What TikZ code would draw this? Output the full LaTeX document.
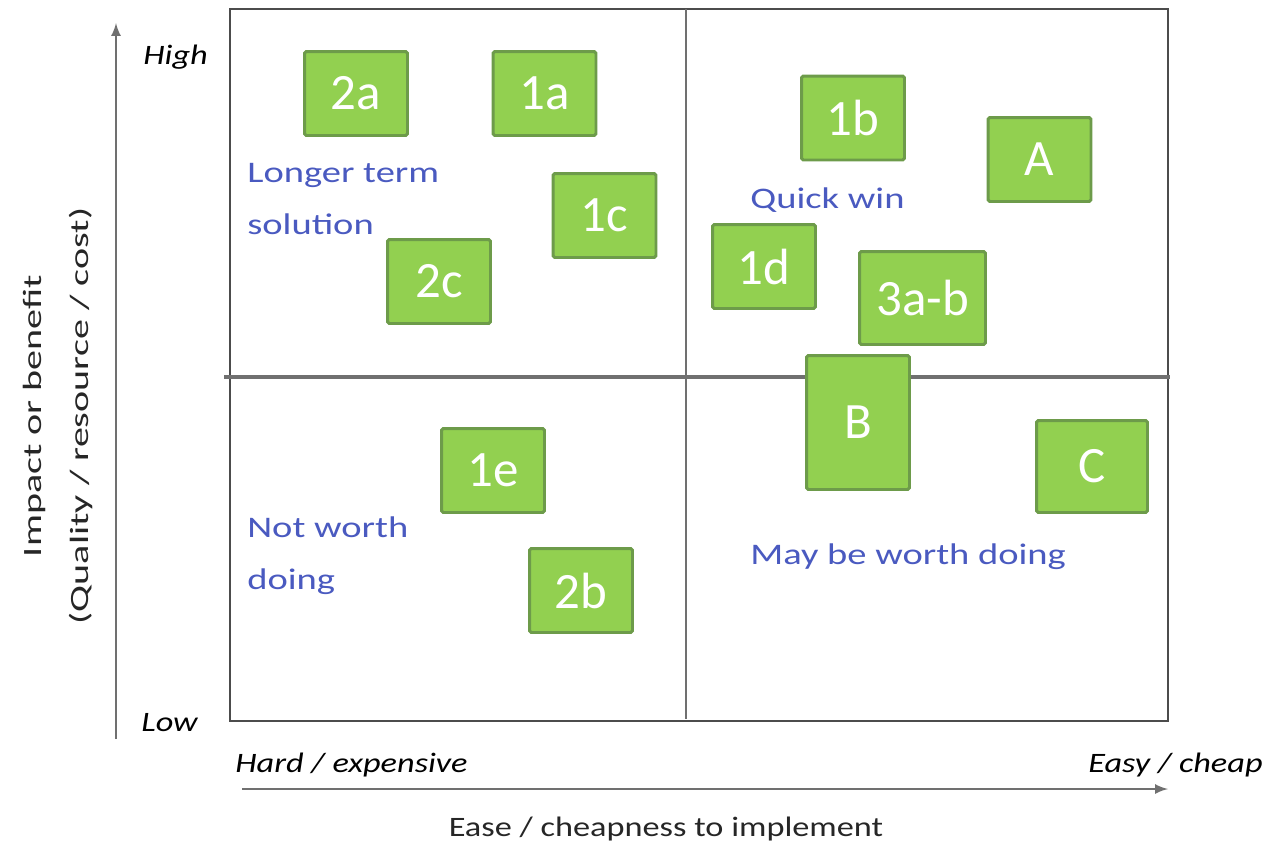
\documentclass[tikz,border=0pt]{standalone}
\usepackage{fontspec}
\setmainfont{Carlito}
\newfontfamily\widefont[FakeStretch=1.22]{Carlito}
\newfontfamily\zonefont[FakeStretch=1.29]{Carlito}
\newfontfamily\sidefont[FakeStretch=1.52]{Carlito}
\usetikzlibrary{shapes}
\definecolor{boxgreen}{HTML}{92D050}
\definecolor{boxedge}{HTML}{6D9B4A}
\definecolor{zoneblue}{HTML}{4A5AC0}
\definecolor{axisgray}{HTML}{707070}
\begin{document}
\begin{tikzpicture}[x=0.02cm,y=-0.02cm]
        \tikzstyle{item}=[rectangle,draw=boxedge,fill=boxgreen,line width=1.7pt,rounded corners=1pt,text=white,font=\fontsize{29}{30}\selectfont,minimum width=2.06cm,minimum height=1.68cm,inner sep=0pt]
        \tikzstyle{zone}=[anchor=base west,inner sep=0pt,text=zoneblue,align=left,font=\zonefont\fontsize{17}{29.6}\selectfont]
        \tikzstyle{tag}=[inner sep=0pt,font=\widefont\fontsize{16}{18}\selectfont\itshape]
        \useasboundingbox (0,0) rectangle (1268,846);
        % quadrants
        \draw[line width=1.3pt,black!70] (230,9) rectangle (1168,721);
        \draw[line width=0.8pt,axisgray] (686,9) -- (686,719);
        \draw[line width=1.8pt,axisgray] (224,377) -- (1170,377);
        % axes
        \coordinate (ybot) at (116,739);
        \coordinate (ytop) at (116,23);
        \coordinate (xleft) at (242,789);
        \coordinate (xright) at (1168,789);
        \draw[line width=1.5pt,axisgray,-latex] (ybot) -- (ytop);
        \draw[line width=1.5pt,axisgray,-latex] (xleft) -- (xright);
        \node[rotate=90,align=center,font=\sidefont\fontsize{15}{27}\selectfont,text=black!85] (ylabel) at (58,416) {Impact or benefit\\(Quality / resource / cost)};
        \node[anchor=base,font=\widefont\fontsize{16}{18}\selectfont,text=black!85] (xlabel) at (666,836) {Ease / cheapness to implement};
        \node[tag,anchor=base west] (high) at (143,64) {High};
        \node[tag,anchor=base west] (low) at (141,731) {Low};
        \node[tag,anchor=base west] (hard) at (235,772) {Hard / expensive};
        \node[tag,anchor=base east] (easy) at (1263,772) {Easy / cheap};
        % zone names
        \node[zone] (longer) at (247,234) {Longer term\\solution};
        \node[zone] (quick) at (750,208) {Quick win};
        \node[zone] (notworth) at (247,589) {Not worth\\doing};
        \node[zone] (maybe) at (750,564) {May be worth doing};
        % options
        \node[item] (n2a) at (356,93.5) {2a};
        \node[item] (n1a) at (544.5,93.5) {1a};
        \node[item] (n1c) at (604.5,215.5) {1c};
        \node[item] (n2c) at (439,281.5) {2c};
        \node[item] (n1b) at (853,118) {1b};
        \node[item] (nA) at (1039.5,159.5) {A};
        \node[item] (n1d) at (764,266.5) {1d};
        \node[item,minimum width=2.52cm,minimum height=1.86cm] (n3ab) at (922.5,298) {3a-b};
        \node[item,minimum height=2.68cm] (nB) at (858,422.5) {B};
        \node[item,minimum width=2.22cm,minimum height=1.84cm] (nC) at (1092,466.5) {C};
        \node[item] (n1e) at (493,470.5) {1e};
        \node[item] (n2b) at (581,590.5) {2b};
\end{tikzpicture}
\end{document}
